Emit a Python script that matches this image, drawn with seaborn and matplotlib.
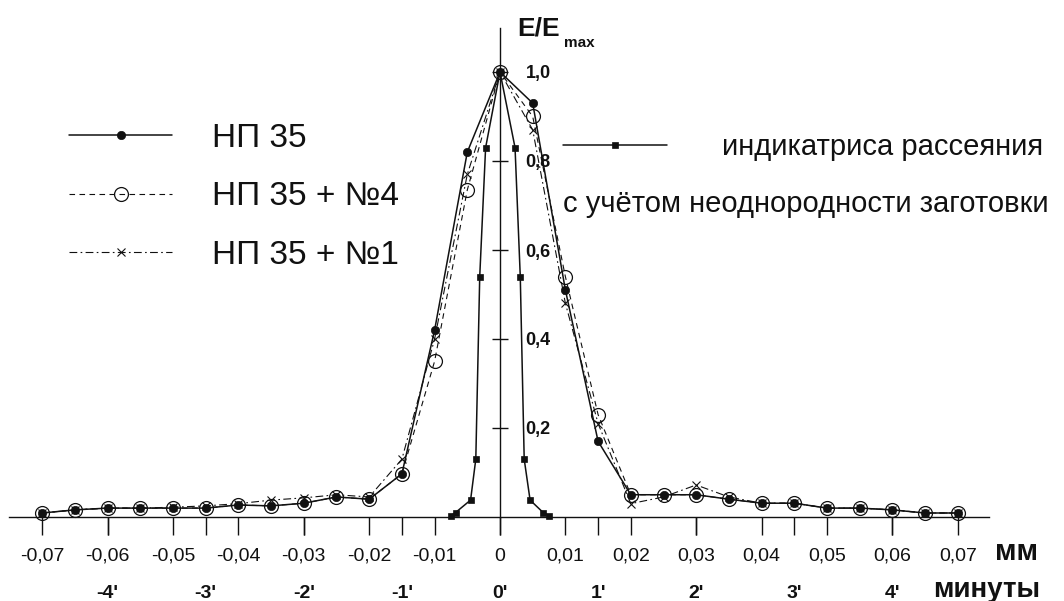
import matplotlib
matplotlib.use("Agg")
import matplotlib.pyplot as plt
import seaborn as sns
import numpy as np

# ---------------- data ----------------
x_mm = [-0.07, -0.065, -0.06, -0.055, -0.05, -0.045, -0.04, -0.035, -0.03, -0.025,
        -0.02, -0.015, -0.01, -0.005, 0.0, 0.005, 0.01, 0.015, 0.02, 0.025,
        0.03, 0.035, 0.04, 0.045, 0.05, 0.055, 0.06, 0.065, 0.07]

np35 = [0.009, 0.016, 0.02, 0.02, 0.02, 0.02, 0.027, 0.025, 0.031, 0.045,
        0.04, 0.097, 0.42, 0.82, 1.0, 0.93, 0.51, 0.17, 0.05, 0.05,
        0.05, 0.04, 0.031, 0.031, 0.02, 0.02, 0.016, 0.009, 0.009]

np35_n4 = [0.009, 0.016, 0.02, 0.02, 0.02, 0.02, 0.027, 0.025, 0.031, 0.045,
           0.04, 0.097, 0.35, 0.735, 1.0, 0.90, 0.54, 0.23, 0.05, 0.05,
           0.05, 0.04, 0.031, 0.031, 0.02, 0.02, 0.016, 0.009, 0.009]

np35_n1 = [0.009, 0.016, 0.02, 0.02, 0.022, 0.025, 0.03, 0.038, 0.043, 0.05,
           0.045, 0.13, 0.40, 0.77, 1.0, 0.87, 0.48, 0.21, 0.03, 0.045,
           0.072, 0.045, 0.031, 0.031, 0.02, 0.02, 0.016, 0.009, 0.009]

ind_x = [-0.0075, -0.0068, -0.0045, -0.0037, -0.0031, -0.0022, 0.0,
         0.0023, 0.0031, 0.0037, 0.0046, 0.0066, 0.0075]
ind_y = [0.003, 0.01, 0.038, 0.13, 0.54, 0.83, 1.0,
         0.83, 0.54, 0.13, 0.038, 0.01, 0.003]

mm_ticks = [-0.07, -0.06, -0.05, -0.04, -0.03, -0.02, -0.01, 0.0,
            0.01, 0.02, 0.03, 0.04, 0.05, 0.06, 0.07]
mm_labels = ["-0,07", "-0,06", "-0,05", "-0,04", "-0,03", "-0,02", "-0,01", "0",
             "0,01", "0,02", "0,03", "0,04", "0,05", "0,06", "0,07"]
min_ticks = [-0.06, -0.045, -0.03, -0.015, 0.0, 0.015, 0.03, 0.045, 0.06]
min_labels = ["-4'", "-3'", "-2'", "-1'", "0'", "1'", "2'", "3'", "4'"]
y_ticks = [0.2, 0.4, 0.6, 0.8, 1.0]
y_labels = ["0,2", "0,4", "0,6", "0,8", "1,0"]

lab_np35 = "НП 35"
lab_n4 = "НП 35 + №4"
lab_n1 = "НП 35 + №1"
lab_ind = "индикатриса рассеяния"
lab_ind2 = "с учётом неоднородности заготовки"

# ---------------- style ----------------
sns.set_theme(style="white")
plt.rcParams["font.family"] = ["Liberation Sans", "DejaVu Sans"]

W, H = 1064, 601
fig = plt.figure(figsize=(W / 100, H / 100), dpi=100)
ax = fig.add_axes([0, 0, 1, 1])
ax.set_facecolor("white")

# pixel mapping: x=0 at 500px, 0.01 mm = 65.4 px ; y=0 at 517px, 1.0 = 445 px
x0px, xs = 500.0, 6540.0
y0px, ys = 517.0, 445.0
ax.set_xlim(-x0px / xs, (W - x0px) / xs)
ax.set_ylim(-(H - y0px) / ys, y0px / ys)

K = "#111111"
common = dict(ax=ax, estimator=None, legend=False, sort=False)

sns.lineplot(x=x_mm, y=np35_n1, color=K, lw=0.8, linestyle=(0, (7, 3, 1.5, 3)),
             marker="x", markersize=6, markeredgecolor=K, markeredgewidth=0.8,
             zorder=3, **common)
h_n1 = ax.lines[-1]
sns.lineplot(x=x_mm, y=np35_n4, color=K, lw=0.8, linestyle=(0, (5, 4)),
             marker="o", markersize=10, markerfacecolor="none",
             markeredgecolor=K, markeredgewidth=0.9, zorder=4, **common)
h_n4 = ax.lines[-1]
sns.lineplot(x=x_mm, y=np35, color=K, lw=1.1, linestyle="-",
             marker="o", markersize=6, markerfacecolor=K,
             markeredgecolor=K, markeredgewidth=0.5, zorder=5, **common)
h_np = ax.lines[-1]
sns.lineplot(x=ind_x, y=ind_y, color=K, lw=1.1, linestyle="-",
             marker="s", markersize=5, markerfacecolor=K,
             markeredgecolor=K, markeredgewidth=0.5, zorder=6, **common)
h_ind = ax.lines[-1]

# ---------------- axes ----------------
for s in ["top", "left"]:
    ax.spines[s].set_visible(False)
ax.spines["bottom"].set_position(("data", 0))
ax.spines["bottom"].set_bounds((9 - x0px) / xs, (989 - x0px) / xs)
ax.spines["right"].set_position(("data", 0))
ax.spines["right"].set_bounds(0, (y0px - 28) / ys)
for s in ["bottom", "right"]:
    ax.spines[s].set_color(K)
    ax.spines[s].set_linewidth(1.0)
    ax.spines[s].set_zorder(2)

ax.xaxis.remove_overlapping_locs = False
ax.set_xticks(mm_ticks)
ax.set_xticklabels(mm_labels)
ax.set_xticks(min_ticks, minor=True)
ax.set_xticklabels(min_labels, minor=True)
ax.tick_params(axis="x", which="both", bottom=True, top=False, direction="out",
               length=13, width=1.0, color=K, labelcolor=K)
ax.tick_params(axis="x", which="major", labelsize=14, pad=9)
ax.tick_params(axis="x", which="minor", labelsize=14, pad=36)
for t in ax.get_xticklabels(minor=True):
    t.set_fontweight("bold")

ax.yaxis.set_ticks_position("right")
ax.set_yticks(y_ticks)
ax.set_yticklabels(y_labels)
ax.tick_params(axis="y", which="major", right=True, left=False, labelright=True,
               labelleft=False, direction="inout", length=11, width=1.0,
               color=K, labelcolor=K, labelsize=13, pad=13)
for t in ax.get_yticklabels():
    t.set_fontweight("bold")
ax.grid(False)

# axis titles
fig.text(517 / W, 1 - 35 / H, "E/E", fontsize=19, fontweight="bold", color=K,
         ha="left", va="baseline")
fig.text(564 / W, 1 - 47 / H, "max", fontsize=11, fontweight="bold", color=K,
         ha="left", va="baseline")
fig.text(995 / W, 1 - 560 / H, "мм", fontsize=21, fontweight="bold", color=K,
         ha="left", va="baseline")
fig.text(933 / W, 1 - 597 / H, "минуты", fontsize=20, fontweight="bold", color=K,
         ha="left", va="baseline")

# ---------------- legends ----------------
leg1 = ax.legend(handles=[h_np, h_n4, h_n1], labels=[lab_np35, lab_n4, lab_n1],
                 loc="upper left", bbox_to_anchor=(69 / W, 1 - 123 / H),
                 bbox_transform=fig.transFigure, frameon=False, fontsize=24,
                 handlelength=3.1, handletextpad=1.2, labelspacing=0.82,
                 borderpad=0, borderaxespad=0, numpoints=1)
for t in leg1.get_texts():
    t.set_color(K)
ax.add_artist(leg1)

leg2 = ax.legend(handles=[h_ind], labels=[lab_ind],
                 loc="upper left", bbox_to_anchor=(563 / W, 1 - 133 / H),
                 bbox_transform=fig.transFigure, frameon=False, fontsize=21,
                 handlelength=3.56, handletextpad=1.9,
                 borderpad=0, borderaxespad=0, numpoints=1)
for t in leg2.get_texts():
    t.set_color(K)

fig.text(563 / W, 1 - 212 / H, lab_ind2, fontsize=21, color=K,
         ha="left", va="baseline")

fig.savefig("out.png", dpi=100, facecolor="white")
